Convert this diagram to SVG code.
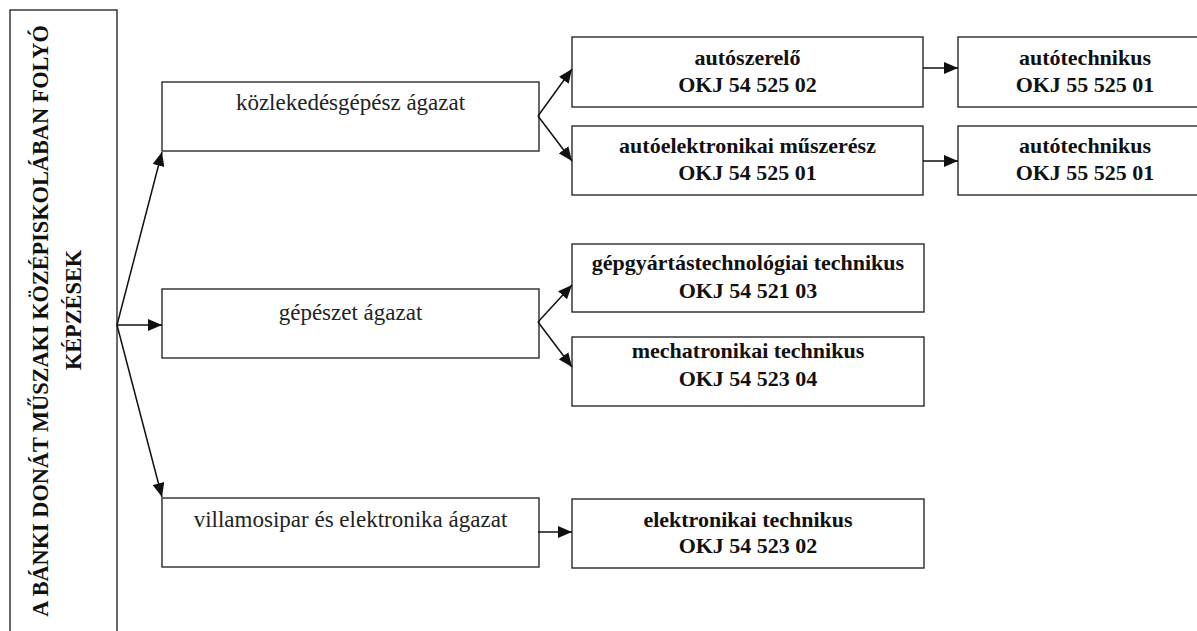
<svg xmlns="http://www.w3.org/2000/svg" width="1197" height="631" viewBox="0 0 1197 631">
<style>
.box{fill:#fff;stroke:#2a2a2a;stroke-width:1.4}
.reg{font-family:'Liberation Serif','Times New Roman','DejaVu Serif',serif;font-size:23px;fill:#222;text-anchor:middle}
.bold{font-family:'Liberation Serif','Times New Roman','DejaVu Serif',serif;font-size:22px;font-weight:bold;fill:#111;text-anchor:middle}
.title{font-size:22.3px}
.conn line{stroke:#111;stroke-width:1.5;marker-end:url(#ah)}
</style>
<defs>
<marker id="ah" viewBox="0 0 14 12" refX="14" refY="6" markerWidth="14" markerHeight="12" markerUnits="userSpaceOnUse" orient="auto">
<path d="M0,0 L14,6 L0,12 Z" fill="#111"/>
</marker>
</defs>
<rect width="1197" height="631" fill="#fff"/>
<g id="root">
<rect class="box" x="10" y="10" width="107" height="640"/>
<text class="bold title" transform="translate(48,321) rotate(-90)" x="0" y="0">A BÁNKI DONÁT MŰSZAKI KÖZÉPISKOLÁBAN FOLYÓ</text>
<text class="bold title" transform="translate(81,310) rotate(-90)" x="0" y="0">KÉPZÉSEK</text>
</g>
<g id="kozlekedes">
<rect class="box" x="162" y="82" width="377" height="69"/>
<text class="reg" x="350.5" y="110">közlekedésgépész ágazat</text>
</g>
<g id="gepeszet">
<rect class="box" x="162" y="289" width="377" height="69"/>
<text class="reg" x="350.5" y="320">gépészet ágazat</text>
</g>
<g id="villamosipar">
<rect class="box" x="162" y="498" width="377" height="69"/>
<text class="reg" x="350.5" y="527">villamosipar és elektronika ágazat</text>
</g>
<g id="autoszerelo">
<rect class="box" x="572" y="37" width="351" height="70"/>
<text class="bold" x="747.5" y="65">autószerelő</text>
<text class="bold" x="747.5" y="92">OKJ 54 525 02</text>
</g>
<g id="autoelektronikai">
<rect class="box" x="572" y="126" width="351" height="69"/>
<text class="bold" x="747.5" y="153">autóelektronikai műszerész</text>
<text class="bold" x="747.5" y="180">OKJ 54 525 01</text>
</g>
<g id="gepgyartas">
<rect class="box" x="572" y="244" width="352" height="68"/>
<text class="bold" x="748" y="270">gépgyártástechnológiai technikus</text>
<text class="bold" x="748" y="298">OKJ 54 521 03</text>
</g>
<g id="mechatronikai">
<rect class="box" x="572" y="337" width="352" height="69"/>
<text class="bold" x="748" y="358">mechatronikai technikus</text>
<text class="bold" x="748" y="386">OKJ 54 523 04</text>
</g>
<g id="elektronikai">
<rect class="box" x="572" y="499" width="352" height="69"/>
<text class="bold" x="748" y="527">elektronikai technikus</text>
<text class="bold" x="748" y="553">OKJ 54 523 02</text>
</g>
<g id="autotechnikus1">
<rect class="box" x="958" y="37" width="254" height="70"/>
<text class="bold" x="1085" y="65">autótechnikus</text>
<text class="bold" x="1085" y="92">OKJ 55 525 01</text>
</g>
<g id="autotechnikus2">
<rect class="box" x="958" y="126" width="254" height="69"/>
<text class="bold" x="1085" y="153">autótechnikus</text>
<text class="bold" x="1085" y="180">OKJ 55 525 01</text>
</g>
<g id="connectors" class="conn">
<line x1="117" y1="325" x2="162" y2="152"/>
<line x1="117" y1="325" x2="162" y2="325"/>
<line x1="117" y1="325" x2="162" y2="497"/>
<line x1="538" y1="116" x2="572" y2="69"/>
<line x1="538" y1="116" x2="572" y2="161"/>
<line x1="923" y1="68" x2="958" y2="68"/>
<line x1="923" y1="161" x2="958" y2="161"/>
<line x1="538" y1="322" x2="572" y2="285"/>
<line x1="538" y1="322" x2="572" y2="367"/>
<line x1="538" y1="532" x2="572" y2="532"/>
</g>
</svg>
